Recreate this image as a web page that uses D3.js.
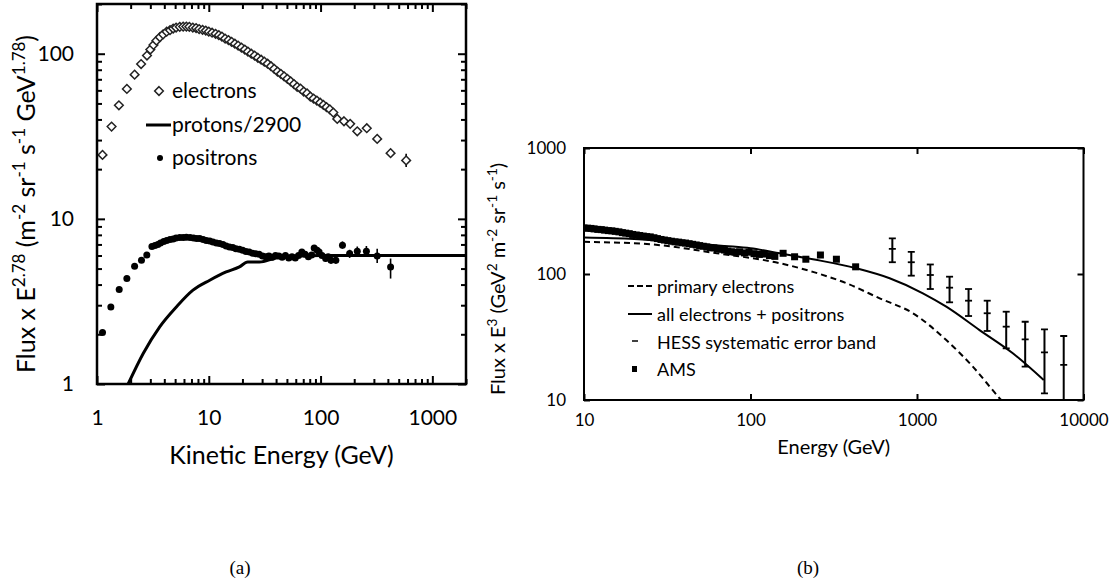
<!DOCTYPE html>
<html>
<head>
<meta charset="utf-8">
<script src="https://cdn.jsdelivr.net/npm/d3@7"></script>
<style>
  body { margin: 0; background: #fff; }
  text { font-family: Lato, "Open Sans", sans-serif; fill: #000; }
</style>
</head>
<body>
<div class="chart"></div>
<script>
// ---------- panel (a) data ----------
var elecE = [1.12, 1.35, 1.57, 1.85, 2.17, 2.48, 2.8,
  3.0, 3.2, 3.4, 3.65, 3.9, 4.2, 4.5, 4.8, 5.1, 5.5,
  5.9, 6.3, 6.7, 7.2, 7.7, 8.2, 8.8, 9.4, 10.0, 10.7,
  11.5, 12.3, 13.1, 14.0, 15.0, 16.0, 17.1, 18.3, 19.6, 21.0,
  22.4, 24.0, 25.7, 27.5, 29.4, 31.4, 33.6, 36.0, 38.5, 41.2,
  44.1, 47.2, 50.5, 54.0, 57.8, 61.8, 66.1, 70.7, 75.7, 81.0,
  86.6, 92.7, 99.2, 106, 113, 121, 130,
  141, 162, 184, 213, 259, 321, 423, 583];
var elecFlux = [24.4, 36.2, 48.7, 61.2, 74.7, 86.6, 97.5,
  106, 113, 120, 126, 131, 136, 139, 142, 144, 145.5,
  146, 146, 145.5, 144, 143, 141, 139.5, 138, 136, 134,
  132, 129.5, 127, 123.5, 121, 118, 115, 112, 109, 106,
  103, 100, 97.5, 94.5, 92, 89.5, 87, 84, 81, 78,
  75.5, 73, 70.5, 68, 65.5, 63, 61.5, 59, 57.5, 55,
  53.5, 52, 50.5, 49, 47.5, 46, 44,
  40.3, 39.0, 37.6, 33.9, 35.4, 30.5, 25.0, 22.6];
var elecBarE = [423, 583];
var elecBarLo = [23.8, 20.6];
var elecBarHi = [26.3, 24.8];

var posE = [1.12, 1.33, 1.58, 1.85, 2.17, 2.5, 2.79, 3.1,
  3.3, 3.5, 3.7, 3.95, 4.2, 4.5, 4.8, 5.1, 5.5, 5.9,
  6.3, 6.8, 7.3, 7.8, 8.3, 8.9, 9.5, 10.2, 10.9, 11.7,
  12.5, 13.4, 14.3, 15.3, 16.4, 17.5, 18.8, 20.1, 21.5, 23,
  24.6, 26.3, 28.2, 30.2, 32.3, 34.5, 37, 39.5, 42.3, 45.3,
  48.5, 51.9, 55.5, 59.4, 63.5, 68, 72.7, 77.8, 83.2,
  87.7, 93, 97, 103, 111, 117, 124, 137, 157, 182, 213, 257, 321, 423];
var posFlux = [2.05, 2.93, 3.73, 4.35, 5.16, 5.61, 6.04, 6.8,
  6.9, 7.0, 7.15, 7.3, 7.4, 7.5, 7.55, 7.65, 7.7, 7.7,
  7.75, 7.7, 7.65, 7.6, 7.6, 7.5, 7.4, 7.35, 7.25, 7.15,
  7.1, 7.0, 6.85, 6.75, 6.7, 6.6, 6.55, 6.45, 6.35, 6.3,
  6.2, 6.15, 6.1, 5.95, 5.9, 5.95, 5.85, 6.0, 5.95, 5.85,
  6.0, 5.8, 5.9, 5.8, 6.0, 6.3, 6.1, 5.9, 6.05,
  6.66, 6.45, 6.3, 6.0, 5.75, 5.9, 5.61, 5.61, 6.92, 6.16, 6.36, 6.36, 5.96, 5.11];
var posBarE = [111, 124, 137, 157, 182, 213, 257, 321, 423];
var posBarLo = [5.5, 5.35, 5.35, 6.6, 5.8, 6.0, 5.95, 5.4, 4.35];
var posBarHi = [6.0, 5.9, 5.9, 7.3, 6.5, 6.8, 6.85, 6.6, 5.75];

var protE = [1.9, 2.59, 3.64, 5.13, 7.22, 10.2, 14.3, 18.8, 22.3, 28.4, 40, 64.5, 100, 2000];
var protFlux = [1.0, 1.53, 2.22, 2.93, 3.70, 4.25, 4.77, 5.12, 5.48, 5.48, 5.80, 5.96, 6.0, 6.0];

var aXTicks = [1, 10, 100, 1000];
var aYTicks = [1, 10, 100];

// ---------- panel (b) data ----------
var primE = [10, 25.1, 63, 151, 237, 377, 597, 945, 1499, 2164, 3204, 3600];
var primFlux = [180, 172, 146, 121.6, 104, 84.4, 64.1, 48.8, 29.9, 18.4, 10, 8.5];

var allE = [10, 20, 40, 70, 100, 150, 237, 432, 685, 1085, 1499, 2374, 3762, 5770];
var allFlux = [195, 190, 178, 167, 160, 146, 131, 111, 92.5, 70.3, 55, 35.9, 23.5, 14.4];

var amsE = [10.0, 10.5, 11.0, 11.5, 12.1, 12.7, 13.3, 14.0, 14.7, 15.4,
  16.2, 17.0, 17.8, 18.7, 19.6, 20.6, 21.6, 22.7, 23.8, 25.0,
  26.3, 27.6, 29.0, 30.4, 31.9, 33.5, 35.2, 37.0, 38.8, 40.7,
  42.8, 44.9, 47.2, 49.5, 52.0, 54.6, 57.3, 60.2, 63.2, 66.4,
  69.7, 73.2, 76.8, 80.7, 86, 92, 98, 105, 113, 121,
  130, 140, 157, 184, 215, 263, 328, 428];
var amsFlux = [232, 231, 230, 228, 226, 225, 223, 221, 220, 218,
  216, 213, 211, 209, 206, 204, 202, 200, 198, 197,
  194, 191, 188, 186, 184, 182, 180, 179, 177, 176,
  174, 172, 170, 168, 166, 164, 162, 161, 159, 157,
  155, 152, 150, 149, 150, 147, 149, 145, 143, 144,
  140, 138, 146, 137, 131, 141.5, 131, 114];

var hessE = [711, 924, 1202, 1569, 2040, 2641, 3434, 4464, 5829, 7606];
var hessFlux = [158, 124, 98.2, 77.9, 61.4, 48.8, 38.2, 30.3, 23.9, 19.0];
var hessLo = [124, 97, 76, 59.6, 46.4, 35.3, 25.7, 18.4, 11.3, 9];
var hessHi = [192, 150, 119, 95.2, 76, 61.4, 50.2, 41.8, 36.4, 32.2];

var bXTicks = [10, 100, 1000, 10000];
var bYTicks = [10, 100, 1000];

// ---------- helpers ----------
function zip(xs, ys) { return xs.map(function(x, i) { return [x, ys[i]]; }); }

function minorTicks(lo, hi) {
  var t = [];
  for (var d = lo; d < hi; d *= 10)
    for (var m = 2; m < 10; m++) if (m * d <= hi) t.push(m * d);
  return t;
}

function richText(sel, parts, size) {
  parts.forEach(function(p) {
    var t = sel.append("tspan").text(p[0]);
    if (p[1]) t.attr("baseline-shift", "super").style("font-size", (size * 0.68) + "px");
  });
}

function bareTicks(g, axisFn, scale, vals, size, tr, sw) {
  g.append("g")
    .attr("transform", tr)
    .call(axisFn(scale).tickValues(vals).tickSize(size).tickFormat(""))
    .call(function(s) { s.select(".domain").remove(); })
    .selectAll("line").attr("stroke-width", sw);
}

var svg = d3.select(".chart").append("svg")
  .attr("width", 1115)
  .attr("height", 588);

// ================= panel (a) =================
var A = { x0: 97, x1: 466, y0: 4, y1: 384 };
var xA = d3.scaleLog().domain([1, 2000]).range([A.x0, A.x1]);
var yA = d3.scaleLog().domain([1, 200]).range([A.y1, A.y0]);

svg.append("clipPath").attr("id", "clipA").append("rect")
  .attr("x", A.x0).attr("y", A.y0).attr("width", A.x1 - A.x0).attr("height", A.y1 - A.y0);

var gA = svg.append("g");
var plotA = gA.append("g").attr("clip-path", "url(#clipA)");

// protons/2900
plotA.append("path")
  .datum(zip(protE, protFlux))
  .attr("fill", "none")
  .attr("stroke", "#000")
  .attr("stroke-width", 3)
  .attr("d", d3.line().x(d => xA(d[0])).y(d => yA(d[1])).curve(d3.curveMonotoneX));

// error bars
plotA.selectAll(".pbar").data(posBarE).enter().append("line")
  .attr("x1", d => xA(d)).attr("x2", d => xA(d))
  .attr("y1", (d, i) => yA(posBarLo[i])).attr("y2", (d, i) => yA(posBarHi[i]))
  .attr("stroke", "#000").attr("stroke-width", 1.6);
plotA.selectAll(".ebar").data(elecBarE).enter().append("line")
  .attr("x1", d => xA(d)).attr("x2", d => xA(d))
  .attr("y1", (d, i) => yA(elecBarLo[i])).attr("y2", (d, i) => yA(elecBarHi[i]))
  .attr("stroke", "#000").attr("stroke-width", 1.6);

// positrons
plotA.selectAll(".pos").data(zip(posE, posFlux)).enter().append("circle")
  .attr("cx", d => xA(d[0])).attr("cy", d => yA(d[1]))
  .attr("r", 3.5).attr("fill", "#000");

// electrons (open diamonds)
var diamond = d3.symbol().type(d3.symbolDiamond2).size(48);
plotA.selectAll(".ele").data(zip(elecE, elecFlux)).enter().append("path")
  .attr("transform", d => `translate(${xA(d[0])},${yA(d[1])})`)
  .attr("d", diamond)
  .attr("fill", "#fff")
  .attr("stroke", "#222")
  .attr("stroke-width", 1.5);

// ticks (inward, on all sides)
var aXMinor = minorTicks(1, 2000);
var aYMinor = minorTicks(1, 200);
bareTicks(gA, d3.axisBottom, xA, aXMinor, -5, `translate(0,${A.y1})`, 2);
bareTicks(gA, d3.axisTop, xA, aXMinor, -5, `translate(0,${A.y0})`, 2);
bareTicks(gA, d3.axisTop, xA, aXTicks, -8, `translate(0,${A.y0})`, 2);
bareTicks(gA, d3.axisLeft, yA, aYMinor, -5, `translate(${A.x0},0)`, 2);
bareTicks(gA, d3.axisRight, yA, aYMinor, -5, `translate(${A.x1},0)`, 2);
bareTicks(gA, d3.axisRight, yA, aYTicks, -8, `translate(${A.x1},0)`, 2);

var axAx = gA.append("g")
  .attr("transform", `translate(0,${A.y1})`)
  .call(d3.axisBottom(xA).tickValues(aXTicks).tickSize(-8).tickPadding(26).tickFormat(d3.format("d")));
axAx.select(".domain").remove();
axAx.selectAll("line").attr("stroke-width", 2);
axAx.selectAll("text").style("font-size", "21px").style("font-family", "Lato, sans-serif");

var axAy = gA.append("g")
  .attr("transform", `translate(${A.x0},0)`)
  .call(d3.axisLeft(yA).tickValues(aYTicks).tickSize(-8).tickPadding(23).tickFormat(d3.format("d")));
axAy.select(".domain").remove();
axAy.selectAll("line").attr("stroke-width", 2);
axAy.selectAll("text").style("font-size", "21px").style("font-family", "Lato, sans-serif");

gA.append("rect")
  .attr("x", A.x0).attr("y", A.y0).attr("width", A.x1 - A.x0).attr("height", A.y1 - A.y0)
  .attr("fill", "none").attr("stroke", "#000").attr("stroke-width", 2.5);

// legend (a)
gA.append("path").attr("transform", "translate(159,91)").attr("d", diamond)
  .attr("fill", "#fff").attr("stroke", "#222").attr("stroke-width", 1.5);
gA.append("text").attr("x", 172).attr("y", 91).attr("dy", "0.35em").style("font-size", "21px").text("electrons");
gA.append("line").attr("x1", 146).attr("x2", 171).attr("y1", 125).attr("y2", 125)
  .attr("stroke", "#000").attr("stroke-width", 3);
gA.append("text").attr("x", 172).attr("y", 125).attr("dy", "0.35em").style("font-size", "21px").text("protons/2900");
gA.append("circle").attr("cx", 160).attr("cy", 158).attr("r", 3).attr("fill", "#000");
gA.append("text").attr("x", 172).attr("y", 158).attr("dy", "0.35em").style("font-size", "21px").text("positrons");

// axis titles (a)
gA.append("text")
  .attr("x", (A.x0 + A.x1) / 2).attr("y", 464)
  .attr("text-anchor", "middle")
  .style("font-size", "25px")
  .text("Kinetic Energy (GeV)");

var yTitleA = gA.append("text")
  .attr("transform", "translate(35,204) rotate(-90)")
  .attr("text-anchor", "middle")
  .style("font-size", "25px");
richText(yTitleA, [["Flux x E"], ["2.78", 1], [" (m"], ["-2", 1], [" sr"], ["-1", 1], [" s"], ["-1", 1], [" GeV"], ["1.78", 1], [")"]], 25);

// ================= panel (b) =================
var B = { x0: 584, x1: 1083.5, y0: 148, y1: 400 };
var xB = d3.scaleLog().domain([10, 10000]).range([B.x0, B.x1]);
var yB = d3.scaleLog().domain([10, 1000]).range([B.y1, B.y0]);

svg.append("clipPath").attr("id", "clipB").append("rect")
  .attr("x", B.x0).attr("y", B.y0).attr("width", B.x1 - B.x0).attr("height", B.y1 - B.y0);

var gB = svg.append("g");
var plotB = gB.append("g").attr("clip-path", "url(#clipB)");

var lineB = d3.line().x(d => xB(d[0])).y(d => yB(d[1])).curve(d3.curveMonotoneX);

plotB.append("path").datum(zip(primE, primFlux))
  .attr("fill", "none").attr("stroke", "#000").attr("stroke-width", 2)
  .attr("stroke-dasharray", "6,4")
  .attr("d", lineB);

plotB.append("path").datum(zip(allE, allFlux))
  .attr("fill", "none").attr("stroke", "#000").attr("stroke-width", 2)
  .attr("d", lineB);

// AMS squares
plotB.selectAll(".ams").data(zip(amsE, amsFlux)).enter().append("rect")
  .attr("x", d => xB(d[0]) - 3.5).attr("y", d => yB(d[1]) - 3.5)
  .attr("width", 7).attr("height", 7).attr("fill", "#000");

// HESS error bars
var hess = plotB.selectAll(".hess").data(hessE).enter().append("g");
hess.append("line")
  .attr("x1", d => xB(d)).attr("x2", d => xB(d))
  .attr("y1", (d, i) => yB(hessLo[i])).attr("y2", (d, i) => yB(hessHi[i]))
  .attr("stroke", "#000").attr("stroke-width", 2);
[hessLo, hessHi, hessFlux].forEach(function(arr) {
  hess.append("line")
    .attr("x1", d => xB(d) - 3.5).attr("x2", d => xB(d) + 3.5)
    .attr("y1", (d, i) => yB(arr[i])).attr("y2", (d, i) => yB(arr[i]))
    .attr("stroke", "#000").attr("stroke-width", 1.8);
});

// ticks (b)
bareTicks(gB, d3.axisTop, xB, bXTicks, -6, `translate(0,${B.y0})`, 2);
bareTicks(gB, d3.axisRight, yB, bYTicks, -6, `translate(${B.x1},0)`, 2);

var axBx = gB.append("g")
  .attr("transform", `translate(0,${B.y1})`)
  .call(d3.axisBottom(xB).tickValues(bXTicks).tickSize(-6).tickPadding(14).tickFormat(d3.format("d")));
axBx.select(".domain").remove();
axBx.selectAll("line").attr("stroke-width", 2);
axBx.selectAll("text").style("font-size", "17px").style("font-family", "Lato, sans-serif");

var axBy = gB.append("g")
  .attr("transform", `translate(${B.x0},0)`)
  .call(d3.axisLeft(yB).tickValues(bYTicks).tickSize(-6).tickPadding(18).tickFormat(d3.format("d")));
axBy.select(".domain").remove();
axBy.selectAll("line").attr("stroke-width", 2);
axBy.selectAll("text").style("font-size", "17px").style("font-family", "Lato, sans-serif");

gB.append("rect")
  .attr("x", B.x0).attr("y", B.y0).attr("width", B.x1 - B.x0).attr("height", B.y1 - B.y0)
  .attr("fill", "none").attr("stroke", "#000").attr("stroke-width", 2);

// legend (b)
var legB = [["primary electrons", 287], ["all electrons + positrons", 315], ["HESS systematic error band", 343], ["AMS", 370]];
legB.forEach(function(l) {
  gB.append("text").attr("x", 657).attr("y", l[1]).attr("dy", "0.35em").style("font-size", "18px").text(l[0]);
});
gB.append("line").attr("x1", 628).attr("x2", 652).attr("y1", 286).attr("y2", 286)
  .attr("stroke", "#000").attr("stroke-width", 2).attr("stroke-dasharray", "6,3");
gB.append("line").attr("x1", 628).attr("x2", 652).attr("y1", 314).attr("y2", 314)
  .attr("stroke", "#000").attr("stroke-width", 2);
gB.append("line").attr("x1", 632).attr("x2", 638).attr("y1", 341).attr("y2", 341)
  .attr("stroke", "#000").attr("stroke-width", 1.5);
gB.append("rect").attr("x", 632).attr("y", 366).attr("width", 5).attr("height", 6).attr("fill", "#000");

// axis titles (b)
gB.append("text")
  .attr("x", (B.x0 + B.x1) / 2).attr("y", 454)
  .attr("text-anchor", "middle")
  .style("font-size", "20px")
  .text("Energy (GeV)");

var yTitleB = gB.append("text")
  .attr("transform", "translate(505,279) rotate(-90)")
  .attr("text-anchor", "middle")
  .style("font-size", "20px");
richText(yTitleB, [["Flux x E"], ["3", 1], [" (GeV"], ["2", 1], [" m"], ["-2", 1], [" sr"], ["-1", 1], [" s"], ["-1", 1], [")"]], 20);

// captions
svg.append("text").attr("x", 240).attr("y", 574).attr("text-anchor", "middle")
  .style("font-family", "'Liberation Serif', serif").style("font-size", "19px").text("(a)");
svg.append("text").attr("x", 808).attr("y", 574).attr("text-anchor", "middle")
  .style("font-family", "'Liberation Serif', serif").style("font-size", "19px").text("(b)");
</script>
</body>
</html>
